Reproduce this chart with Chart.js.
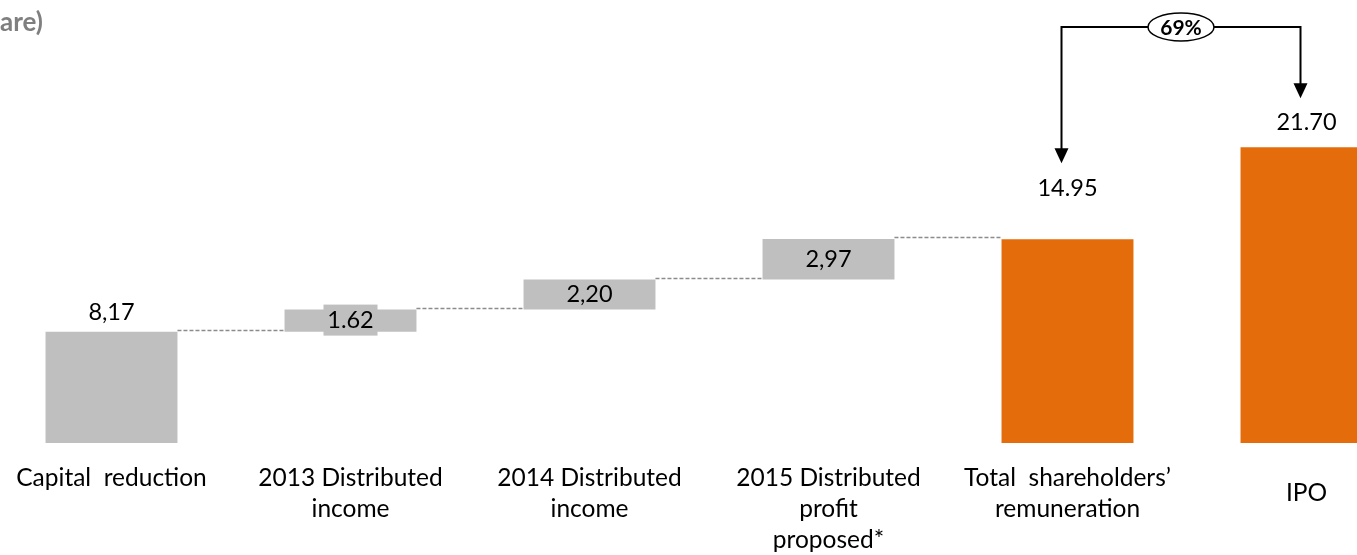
<!DOCTYPE html>
<html><head><meta charset="utf-8">
<script src="https://cdn.jsdelivr.net/npm/chart.js@4/dist/chart.umd.min.js"></script>
<style>
html,body{margin:0;padding:0;background:#fff;overflow:hidden;width:1357px;height:555px}
#wrap{position:absolute;left:-8px;top:0;width:1434px;height:555px}
</style></head><body>
<div id="wrap"><canvas id="c" width="1434" height="555"></canvas></div>
<script>
const categories = [
  ["Capital  reduction"],
  ["2013 Distributed", "income"],
  ["2014 Distributed", "income"],
  ["2015 Distributed", "profit", "proposed*"],
  ["Total  shareholders\u2019", "remuneration"],
  ["IPO"]
];
const barStarts = [0, 8.17, 9.79, 11.99, 0, 0];
const barEnds = [8.17, 9.79, 11.99, 14.96, 14.95, 21.70];
const valueLabels = ["8,17", "1.62", "2,20", "2,97", "14.95", "21.70"];
const barColors = ["#bfbfbf", "#bfbfbf", "#bfbfbf", "#bfbfbf", "#e46c0a", "#e46c0a"];
const ratioLabel = "69%";
const unitLabel = "(\u20ac per share)";

const FONT = "Lato, 'Open Sans', sans-serif";

const overlay = {
  id: 'overlay',
  afterDatasetsDraw(chart) {
    const ctx = chart.ctx;
    const xs = chart.scales.x, ys = chart.scales.y;
    const meta = chart.getDatasetMeta(0);
    ctx.save();
    // dashed connectors
    ctx.strokeStyle = '#8c8c8c';
    ctx.lineWidth = 1.3;
    ctx.setLineDash([4, 2]);
    for (let i = 0; i < 4; i++) {
      const a = meta.data[i], b = meta.data[i + 1];
      const y = Math.round(ys.getPixelForValue(barEnds[i])) - 1.5;
      ctx.beginPath();
      ctx.moveTo(a.x + a.width / 2, y);
      ctx.lineTo(b.x - b.width / 2, y);
      ctx.stroke();
    }
    ctx.setLineDash([]);
    // value labels
    ctx.font = "23.5px " + FONT;
    ctx.textAlign = 'center';
    ctx.textBaseline = 'middle';
    const labelY = [];
    for (let i = 0; i < valueLabels.length; i++) {
      const el = meta.data[i];
      const top = ys.getPixelForValue(barEnds[i]);
      const bot = ys.getPixelForValue(barStarts[i]);
      let y;
      if (i === 0) y = top - 19;
      else if (i <= 3) y = (top + bot) / 2;
      else if (i === 4) y = top - 51;
      else y = top - 25;
      labelY.push(y);
      if (i === 1) {
        ctx.fillStyle = '#bfbfbf';
        ctx.fillRect(el.x - 27, y - 16, 54, 31);
      }
      ctx.fillStyle = '#000';
      ctx.fillText(valueLabels[i], el.x, y);
    }
    // category labels
    ctx.font = "24.5px " + FONT;
    ctx.fillStyle = '#000';
    const baseY = chart.chartArea.bottom + 35;
    categories.forEach((lines, i) => {
      const x = xs.getPixelForValue(i);
      const off = (i === 5) ? 15 : 0;
      lines.forEach((t, k) => ctx.fillText(t, x, baseY + off + k * 31));
    });
    // arrows
    const xl = meta.data[4].x - 6, xr = meta.data[5].x - 6;
    const yTop = 27;
    const tipL = labelY[4] - 25, tipR = labelY[5] - 24;
    ctx.strokeStyle = '#000';
    ctx.fillStyle = '#000';
    ctx.lineWidth = 2;
    ctx.beginPath();
    ctx.moveTo(xl, tipL - 14);
    ctx.lineTo(xl, yTop);
    ctx.lineTo(xr, yTop);
    ctx.lineTo(xr, tipR - 14);
    ctx.stroke();
    [[xl, tipL], [xr, tipR]].forEach(([x, t]) => {
      ctx.beginPath();
      ctx.moveTo(x - 7, t - 15);
      ctx.lineTo(x + 7, t - 15);
      ctx.lineTo(x, t);
      ctx.closePath();
      ctx.fill();
    });
    const cx = (xl + xr) / 2;
    ctx.beginPath();
    ctx.ellipse(cx, yTop, 33, 14, 0, 0, Math.PI * 2);
    ctx.fillStyle = '#fff';
    ctx.fill();
    ctx.lineWidth = 1.5;
    ctx.stroke();
    ctx.fillStyle = '#000';
    ctx.font = "bold 21px " + FONT;
    ctx.fillText(ratioLabel, cx, yTop + 1);
    // unit label (clipped at left edge)
    ctx.font = "bold 26px " + FONT;
    ctx.fillStyle = '#7f7f7f';
    ctx.textAlign = 'right';
    ctx.fillText(unitLabel, 51, 23);
    ctx.restore();
  }
};

new Chart(document.getElementById('c'), {
  type: 'bar',
  data: {
    labels: categories.map(c => c.join(' ')),
    datasets: [{
      data: barStarts.map((s, i) => [s, barEnds[i]]),
      backgroundColor: barColors,
      borderWidth: 0,
      barPercentage: 0.552,
      categoryPercentage: 1.0
    }]
  },
  options: {
    responsive: false,
    animation: false,
    layout: { padding: 0 },
    plugins: { legend: { display: false }, tooltip: { enabled: false }, title: { display: false } },
    scales: {
      x: {
        display: true,
        grid: { display: false, drawTicks: false },
        border: { display: false },
        ticks: { display: false },
        afterFit: s => { s.height = 112; }
      },
      y: { display: false, min: 0, max: 32.5 }
    }
  },
  plugins: [overlay]
});
</script>
</body></html>
